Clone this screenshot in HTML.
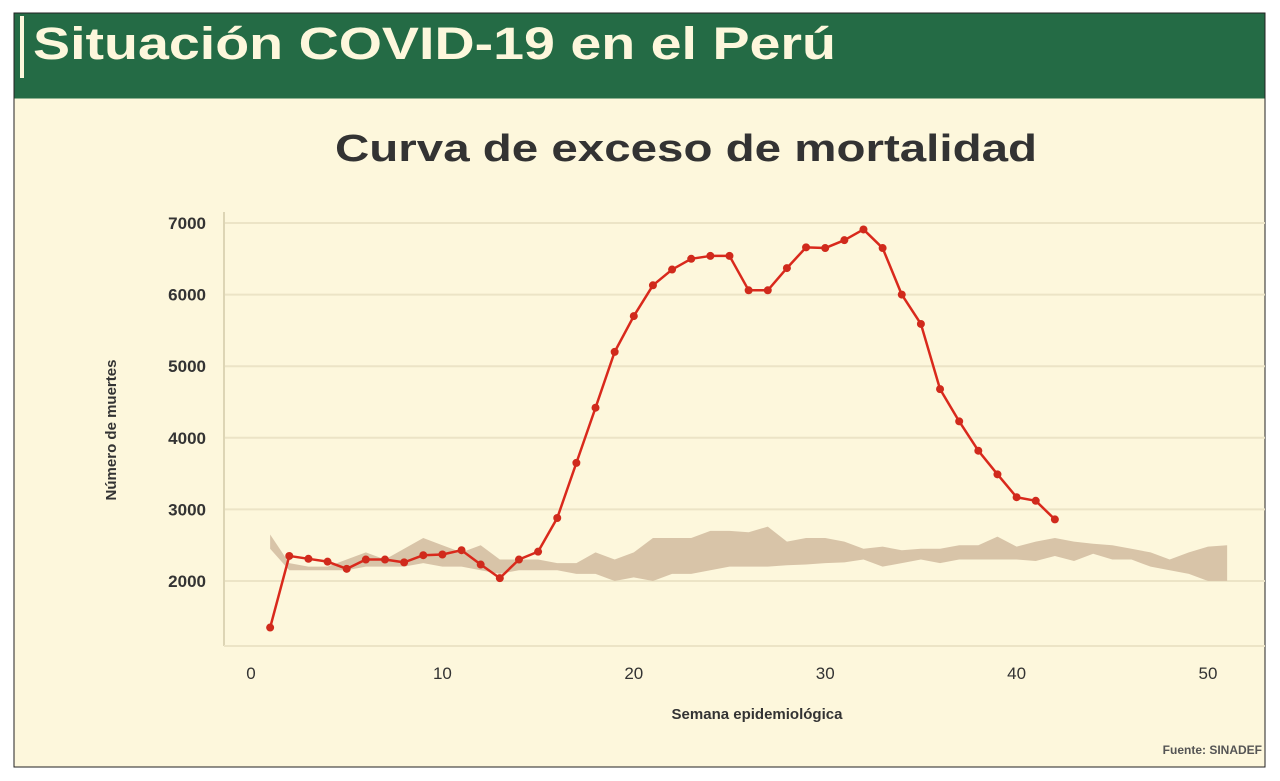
<!DOCTYPE html>
<html><head><meta charset="utf-8"><style>
html,body{margin:0;padding:0;background:#fff;}
svg{display:block;font-family:"Liberation Sans",sans-serif;}
</style></head><body>
<svg id="chart" width="1280" height="781" viewBox="0 0 1280 781">
<rect x="0" y="0" width="1280" height="781" fill="#ffffff"/>
<rect x="14" y="13" width="1251" height="754" fill="#fdf7dc" stroke="#222" stroke-width="1"/>
<rect x="14.5" y="13.5" width="1250" height="85" fill="#246b45"/>
<rect x="20" y="16" width="4" height="62" fill="#fdf7dc"/>
<text x="33" y="59" font-size="45" font-weight="bold" fill="#fdf7dc" textLength="803" lengthAdjust="spacingAndGlyphs">Situación COVID-19 en el Perú</text>
<text x="686" y="161" font-size="38" font-weight="bold" fill="#333" text-anchor="middle" textLength="702" lengthAdjust="spacingAndGlyphs">Curva de exceso de mortalidad</text>
<g id="grid"></g>
<g id="band"></g>
<g id="axes"></g>
<g id="series"></g>
<text x="757" y="719" font-size="15" font-weight="bold" fill="#333" text-anchor="middle">Semana epidemiológica</text>
<text transform="translate(116,430) rotate(-90)" font-size="15" font-weight="bold" fill="#333" text-anchor="middle">Número de muertes</text>
<text x="1262" y="754" font-size="12" font-weight="bold" fill="#555" text-anchor="end">Fuente: SINADEF</text>
</svg>
<script>
const weeks = [1,2,3,4,5,6,7,8,9,10,11,12,13,14,15,16,17,18,19,20,21,22,23,24,25,26,27,28,29,30,31,32,33,34,35,36,37,38,39,40,41,42];
const deaths = [1350,2350,2310,2270,2170,2300,2300,2260,2360,2370,2430,2230,2040,2300,2410,2880,3650,4420,5200,5700,6130,6350,6500,6540,6540,6060,6060,6370,6660,6650,6760,6910,6650,6000,5590,4680,4230,3820,3490,3170,3120,2860];
const bandWeeks = [1,2,3,4,5,6,7,8,9,10,11,12,13,14,15,16,17,18,19,20,21,22,23,24,25,26,27,28,29,30,31,32,33,34,35,36,37,38,39,40,41,42,43,44,45,46,47,48,49,50,51];
const bandUpper = [2650,2250,2200,2200,2300,2400,2300,2450,2600,2500,2400,2500,2300,2300,2300,2250,2250,2400,2300,2400,2600,2600,2600,2700,2700,2680,2760,2550,2600,2600,2550,2450,2480,2430,2450,2450,2500,2500,2620,2480,2550,2600,2550,2520,2500,2450,2400,2300,2400,2480,2500];
const bandLower = [2450,2150,2150,2150,2150,2200,2200,2200,2250,2200,2200,2150,2100,2150,2150,2150,2100,2100,2000,2050,2000,2100,2100,2150,2200,2200,2200,2220,2230,2250,2260,2300,2200,2250,2300,2250,2300,2300,2300,2300,2280,2350,2280,2380,2300,2300,2200,2150,2100,2000,2000];
const yTicks = [2000,3000,4000,5000,6000,7000];
const xTicks = [0,10,20,30,40,50];

const NS = "http://www.w3.org/2000/svg";
const xS = v => 251 + v * (1208 - 251) / 50;
const yS = v => 581 - (v - 2000) * (581 - 223) / 5000;
function mk(tag, attrs, parent, txt){const e=document.createElementNS(NS,tag);for(const k in attrs)e.setAttribute(k,attrs[k]);if(txt!==undefined)e.textContent=txt;parent.appendChild(e);return e;}
const grid=document.getElementById('grid'),axes=document.getElementById('axes'),band=document.getElementById('band'),series=document.getElementById('series');

yTicks.forEach(t=>{
  const l=mk('line',{x1:224,x2:1265,y1:yS(t),y2:yS(t),stroke:'#ece4c6','stroke-width':2},grid);
  
  
  const tx=mk('text',{x:206,y:yS(t)+6,'font-size':17,'font-weight':'bold',fill:'#333','text-anchor':'end'},axes,String(t));
  
  
});
const ax=mk('line',{x1:224,x2:224,y1:212,y2:646,stroke:'#ddd5b5','stroke-width':2},axes);


const bx=mk('line',{x1:224,x2:1265,y1:646,y2:646,stroke:'#ece4c6','stroke-width':2},axes);


xTicks.forEach(t=>{
  const tx=mk('text',{x:xS(t),y:679,'font-size':17,fill:'#333','text-anchor':'middle'},axes,String(t));
  
  
});

let d='';
bandWeeks.forEach((w,i)=>{d+=(i?'L':'M')+xS(w)+','+yS(bandUpper[i]);});
for(let i=bandWeeks.length-1;i>=0;i--){d+='L'+xS(bandWeeks[i])+','+yS(bandLower[i]);}
const bp=mk('path',{d:d+'Z',fill:'#d8c4a8'},band);



const pts=weeks.map((w,i)=>xS(w)+','+yS(deaths[i])).join(' ');
const pl=mk('polyline',{points:pts,fill:'none',stroke:'#d9291c','stroke-width':2.5,'stroke-linejoin':'round'},series);


weeks.forEach((w,i)=>{
  const c=mk('circle',{cx:xS(w),cy:yS(deaths[i]),r:4,fill:'#d02a1c'},series);
  
  
});
</script>
</body></html>
